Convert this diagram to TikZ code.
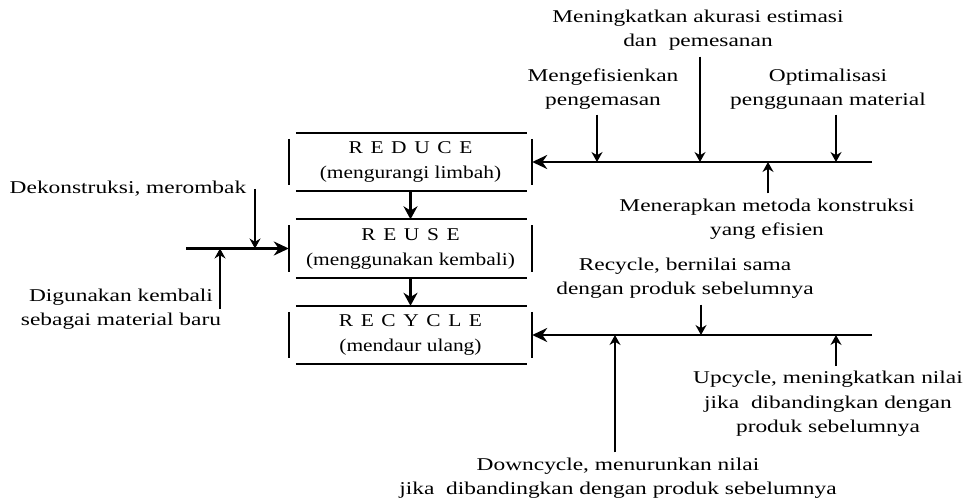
\documentclass[tikz,border=0pt]{standalone}
\usepackage{fontspec}
\setmainfont[FakeStretch=1.3]{Liberation Serif}
\newfontfamily\boxfont[FakeStretch=1.19]{Liberation Serif}
\usepackage{tikz}
\usetikzlibrary{arrows.meta,positioning}

\newcommand{\ls}{\hspace{7.6pt}}

\begin{document}
\begin{tikzpicture}[x=1pt,y=-1pt,
			every node/.style={font=\fontsize{18}{24.5}\selectfont,align=center,inner sep=2pt},
			box/.style={minimum width=243pt,minimum height=58pt,font=\boxfont\fontsize{18}{25}\selectfont},
			boxline/.style={line width=2pt},
			main/.style={line width=2.8pt,-{Stealth[length=15pt,width=14pt]}},
			down/.style={line width=2.6pt,-{Stealth[length=13pt,width=14pt]}},
			side/.style={line width=1.1pt,-{Stealth[length=10pt,width=11pt]}}]
	\useasboundingbox (0,0) rectangle (975,500);

	% the three boxes
	\node[box] (reduce) at (410.5,162) {R\ls E\ls D\ls U\ls C\ls E\\(mengurangi limbah)};
	\node[box] (reuse) at (410.5,248.5) {R\ls E\ls U\ls S\ls E\\(menggunakan kembali)};
	\node[box] (recycle) at (410.5,335) {R\ls E\ls C\ls Y\ls C\ls L\ls E\\(mendaur ulang)};
	\foreach \b in {reduce,reuse,recycle}{
		\draw[boxline] ([xshift=7pt]\b.north west) -- ([xshift=-5pt]\b.north east);
		\draw[boxline] ([xshift=7pt]\b.south west) -- ([xshift=-5pt]\b.south east);
		\draw[boxline] ([yshift=-6pt]\b.north west) -- ([yshift=6pt]\b.south west);
		\draw[boxline] ([yshift=-6pt]\b.north east) -- ([yshift=6pt]\b.south east);
	}
	\draw[down] (reduce) -- (reuse);
	\draw[down] (reuse) -- (recycle);

	% reduce
	\coordinate (redin) at (872,162);
	\coordinate (r1) at (597,162);
	\coordinate (r2) at (700,162);
	\coordinate (r3) at (768,162);
	\coordinate (r4) at (836,162);
	\draw[main] (redin) -- (reduce.east);
	\node (akurasi) at (698,30) {Meningkatkan akurasi estimasi\\dan\ \ pemesanan};
	\node (kemas) at (603,89) {Mengefisienkan\\pengemasan};
	\node (optim) at (828,89) {Optimalisasi\\penggunaan material};
	\node (metoda) at (767,219) {Menerapkan metoda konstruksi\\yang efisien};
	\draw[side,shorten <=4pt] (akurasi.south -| r2) -- (r2);
	\draw[side,shorten <=3pt] (kemas.south -| r1) -- (r1);
	\draw[side,shorten <=3pt] (optim.south -| r4) -- (r4);
	\draw[side,shorten <=3pt] (metoda.north -| r3) -- (r3);

	% reuse
	\coordinate (reusein) at (186,248.5);
	\coordinate (u1) at (220,248.5);
	\coordinate (u2) at (255,248.5);
	\draw[main] (reusein) -- (reuse.west);
	\node (bongkar) at (128,189) {Dekonstruksi, merombak};
	\node (pakai) at (121,309) {Digunakan kembali\\sebagai material baru};
	\draw[side] (bongkar.east -| u2) -- (u2);
	\draw[side] (pakai -| u1) -- (u1);

	% recycle
	\coordinate (recin) at (872,335);
	\coordinate (c1) at (615,335);
	\coordinate (c2) at (701,335);
	\coordinate (c3) at (836,335);
	\draw[main] (recin) -- (recycle.east);
	\node (sama) at (685,278) {Recycle, bernilai sama\\dengan produk sebelumnya};
	\node (up) at (828,404) {Upcycle, meningkatkan nilai\\jika\ \ dibandingkan dengan\\produk sebelumnya};
	\node (turun) at (618,478) {Downcycle, menurunkan nilai\\jika\ \ dibandingkan dengan produk sebelumnya};
	\draw[side,shorten <=4pt] (sama.south -| c2) -- (c2);
	\draw[side,shorten <=3pt] (up.north -| c3) -- (c3);
	\draw[side,shorten <=3pt] (turun.north -| c1) -- (c1);
\end{tikzpicture}
\end{document}
